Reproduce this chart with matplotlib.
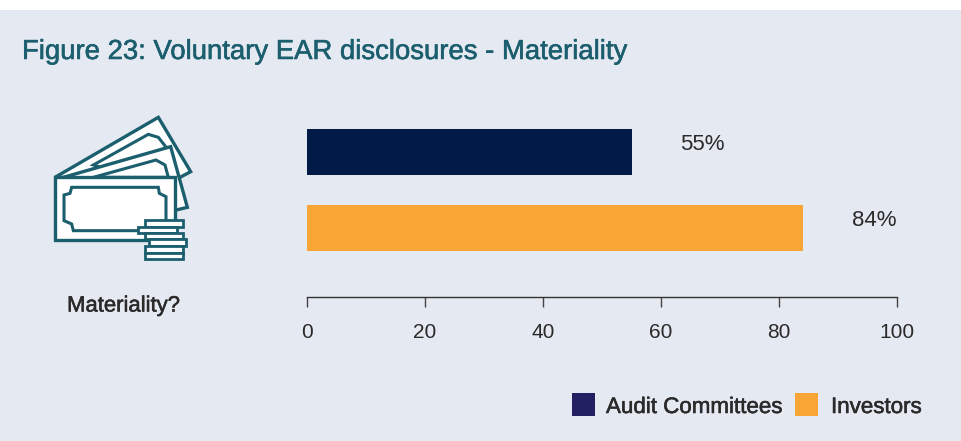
import matplotlib
matplotlib.use("Agg")
import matplotlib.pyplot as plt
import matplotlib.patheffects as pe
from matplotlib.patches import Polygon, Rectangle

plt.rcParams['font.family'] = ['Liberation Sans', 'DejaVu Sans']

title = "Figure 23: Voluntary EAR disclosures - Materiality"
series = ["Audit Committees", "Investors"]
values = [55, 84]
value_labels = ["55%", "84%"]
xticks = [0, 20, 40, 60, 80, 100]
category = "Materiality?"

BG = "#E5E9F1"
TEAL = "#1B5E6E"
NAVY = "#001A47"
LEG_NAVY = "#231F63"
ORANGE = "#F9A535"
TXT = "#2B2A2B"
W, H = 962, 441

fig = plt.figure(figsize=(W / 100, H / 100), dpi=100, facecolor="white")

bg = fig.add_axes([0, 0, 1, 1], zorder=0)
bg.set_xlim(0, W)
bg.set_ylim(H, 0)
bg.axis("off")
bg.add_patch(Rectangle((0, 10), W, H - 10, fc=BG, ec="none"))

ax = fig.add_axes([307 / W, 1 - 297 / H, 590 / W, 187 / H], zorder=2)
ax.patch.set_alpha(0)
ypos = [42, 118]
ax.barh(ypos, values, height=46, color=[NAVY, ORANGE])
ax.set_xlim(0, 100)
ax.set_ylim(187, 0)
ax.set_yticks([])
ax.set_xticks(xticks)
for s in ["top", "left", "right"]:
    ax.spines[s].set_visible(False)
ax.spines["bottom"].set_color("#333333")
ax.spines["bottom"].set_linewidth(1.0)
ax.tick_params(axis="x", length=7, width=1.0, color="#444444", pad=12,
               labelsize=15, labelcolor=TXT)
for v, y, lab in zip(values, ypos, value_labels):
    ax.annotate(lab, (v, y), xytext=(49, 8), textcoords="offset pixels",
                ha="left", va="center", fontsize=16, color=TXT)


def medium(color, w=0.4):
    return [pe.withStroke(linewidth=w, foreground=color)]


bg.text(22, 52, title, fontsize=19.8, color=TEAL, va="center", ha="left",
        path_effects=medium(TEAL))
bg.text(124, 306, category, fontsize=15.9, color=TXT, va="center", ha="center",
        path_effects=medium(TXT))


def z(pts):
    return [(30 + x / 3, 100 + y / 3) for x, y in pts]


def poly(pts, fc="white", lw=2.4):
    bg.add_patch(Polygon(z(pts), closed=True, fc=fc, ec=TEAL, lw=lw, joinstyle="miter"))


poly([(75, 232), (385, 52), (482, 215), (435, 240)])
poly([(190, 195), (355, 103), (385, 112), (415, 150), (300, 230)], lw=2.2)
poly([(100, 232), (422, 140), (472, 322), (430, 332)])
poly([(190, 232), (378, 180), (405, 195), (415, 232)], lw=2.2)
poly([(75, 232), (435, 232), (435, 420), (75, 420)])
poly([(125, 262), (385, 262), (388, 280), (408, 290), (408, 365), (388, 372),
      (385, 392), (130, 392), (125, 372), (102, 362), (102, 285), (120, 280)], lw=2.2)
for x0, y0, x1, y1 in [(345, 360, 460, 380), (325, 380, 442, 398), (345, 398, 460, 416),
                       (358, 416, 468, 438), (345, 438, 460, 458), (345, 458, 460, 478)]:
    poly([(x0, y0), (x1, y0), (x1, y1), (x0, y1)], lw=2.0)

for x0, name, c, tx in [(572, series[0], LEG_NAVY, 606), (795, series[1], ORANGE, 831)]:
    bg.add_patch(Rectangle((x0, 393), 23, 23, fc=c, ec="none"))
    bg.text(tx, 407.5, name, fontsize=16.1, color=TXT, va="center", ha="left",
            path_effects=medium(TXT))

fig.savefig("out.png", dpi=100, facecolor="white")
